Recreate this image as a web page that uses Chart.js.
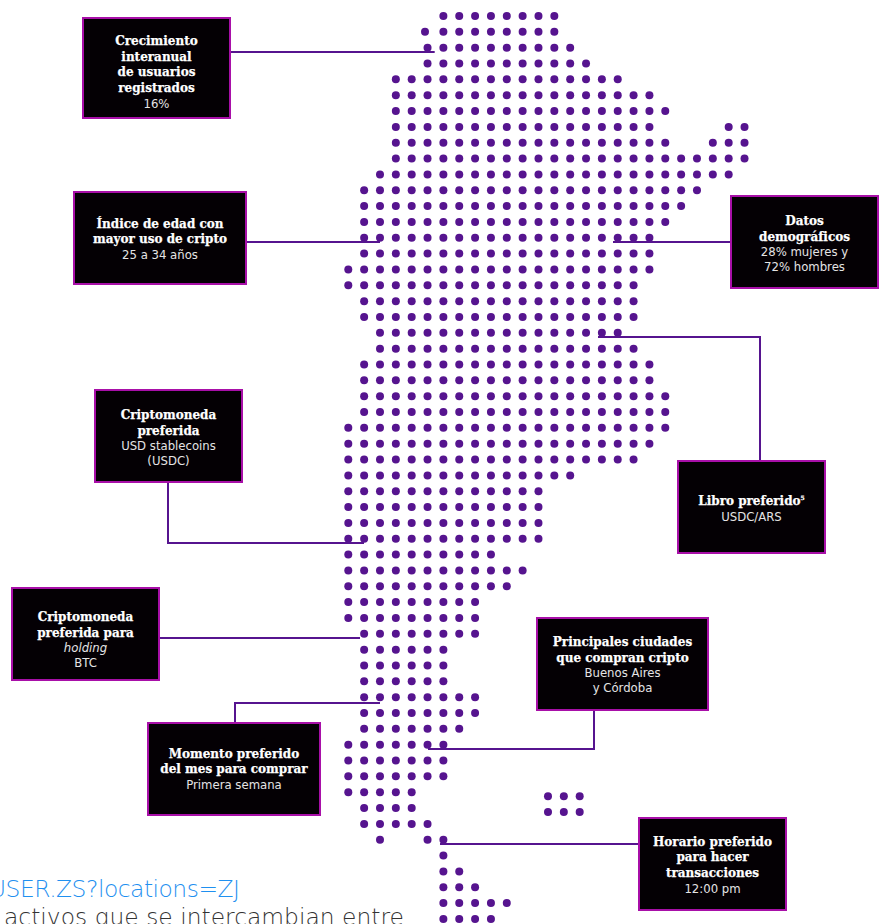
<!DOCTYPE html>
<html lang="es">
<head>
<meta charset="utf-8">
<title>Mapa de datos cripto</title>
<script src="https://cdn.jsdelivr.net/npm/chart.js@4/dist/chart.umd.min.js"></script>
<style>
    html, body { margin: 0; padding: 0; background: #fff; }
    #page { position: relative; width: 884px; height: 924px; overflow: hidden; }
    #dotMap { position: absolute; left: 0; top: 0; }
    .callout {
        position: absolute;
        box-sizing: border-box;
        display: flex;
        flex-direction: column;
        justify-content: center;
        background: #040004;
        border: 2px solid #a80fa8;
        color: #e4e4e4;
        text-align: center;
        font: 11.7px/14.5px "DejaVu Sans", sans-serif;
    }
    .callout b {
        display: block;
        color: #fff;
        font: bold 12px/15.7px "DejaVu Serif", serif;
        -webkit-text-stroke: 0.25px #fff;
    }
    .callout sup { font-size: 6px; line-height: 0; }
    .note { position: absolute; white-space: nowrap; font: 200 23.4px/28px "DejaVu Sans", sans-serif; }
</style>
</head>
<body>
<div id="page">
    <div class="note" style="left:-11px; top:875px; color:#1f90f0; letter-spacing:-0.5px;">USER.ZS?locations=ZJ</div>
    <div class="note" style="left:4px; top:903px; color:#333;">activos que se intercambian entre</div>
    <canvas id="dotMap" width="884" height="924"></canvas>
</div>
<script>
// mapa de puntos: cada fila es una fila de la grilla, # = punto
const northRows = [
    '......########',
    '......########',
    '.....##########',
    '.....###########',
    '...###############',
    '...#################',
    '...##################',
    '...#################....##',
    '...##################..###',
    '...#######################',
    '..#######################',
    '.######################',
    '.#####################',
    '.####################',
    '.###################',
    '.###################',
    '####################',
    '###################',
    '.##################',
    '.##################'
];
const centreRows = [
    '..################',
    '..#################',
    '.###################',
    '.###################',
    '.####################',
    '.####################',
    '#####################',
    '####################',
    '###################',
    '###############',
    '#############',
    '#############',
    '#############',
    '#############',
    '##########',
    '############',
    '###########',
    '#########',
    '#########',
    '.########'
];
const southRows = [
    '.######',
    '.######',
    '.######',
    '.########',
    '.########',
    '.#######',
    '#######',
    '#######',
    '#######',
    '#####',
    '.####',
    '.#####',
    '..#..##',
    '......#',
    '......##',
    '......###',
    '......#####',
    '......####'
];
// puntos sueltos, fuera de la grilla
const strayColumns = [4.84, 12.6, 13.6, 14.6, 12.6, 13.6, 14.6];
const strayRows = [1, 49.25, 49.25, 49.25, 50.25, 50.25, 50.25];

const calloutTitles = [
    ['Crecimiento', 'interanual', 'de usuarios', 'registrados'],
    ['Índice de edad con', 'mayor uso de cripto'],
    ['Datos', 'demográficos'],
    ['Criptomoneda', 'preferida'],
    ['Libro preferido<sup>5</sup>'],
    ['Criptomoneda', 'preferida para'],
    ['Principales ciudades', 'que compran cripto'],
    ['Momento preferido', 'del mes para comprar'],
    ['Horario preferido', 'para hacer', 'transacciones']
];
const calloutValues = [
    ['16%'],
    ['25 a 34 años'],
    ['28% mujeres y', '72% hombres'],
    ['USD stablecoins', '(USDC)'],
    ['USDC/ARS'],
    ['<i>holding</i>', 'BTC'],
    ['Buenos Aires', 'y Córdoba'],
    ['Primera semana'],
    ['12:00 pm']
];

// left, top, width, height y ajuste vertical del texto de cada recuadro
const calloutBoxes = [
    [82, 17, 149, 102, 4.5],
    [73, 191, 174, 94, 1.5],
    [730, 195, 149, 94, 2],
    [94, 389, 149, 94, 2],
    [677, 460, 149, 94, 2.5],
    [11, 587, 149, 94, 6],
    [536, 617, 173, 94, 1],
    [147, 722, 174, 94, 0.5],
    [638, 817, 149, 94, 1.5]
];
// conectores, en pixeles de la pagina
const connectorPaths = [
    [[231, 52], [434.7, 52]],
    [[247, 242], [380, 242]],
    [[730, 242], [613, 242]],
    [[760, 460], [760, 337], [598, 337]],
    [[168, 483], [168, 543], [364, 543]],
    [[160, 638], [360, 638]],
    [[235, 722], [235, 703], [380, 703]],
    [[594, 711], [594, 749], [428, 749]],
    [[638, 844], [440, 844]]
];

const DOT_COLOR = '#56148f';

const gridRows = [...northRows, ...centreRows, ...southRows];
const mapDots = [];
gridRows.forEach((row, rowIndex) => {
    [...row].forEach((cell, column) => {
        if (cell === '#') mapDots.push({ x: column, y: rowIndex });
    });
});
strayColumns.forEach((column, i) => mapDots.push({ x: column, y: strayRows[i] }));

const connectorDatasets = connectorPaths.map(path => ({
    type: 'scatter',
    data: path.map(([x, y]) => ({ x, y })),
    xAxisID: 'pageX',
    yAxisID: 'pageY',
    showLine: true,
    borderColor: DOT_COLOR,
    borderWidth: 2,
    borderJoinStyle: 'miter',
    pointRadius: 0,
    pointHoverRadius: 0
}));

new Chart(document.getElementById('dotMap'), {
    type: 'scatter',
    data: {
        datasets: [
            ...connectorDatasets,
            {
                data: mapDots,
                xAxisID: 'x',
                yAxisID: 'y',
                backgroundColor: DOT_COLOR,
                borderWidth: 0,
                pointRadius: 4,
                pointHoverRadius: 4
            }
        ]
    },
    options: {
        responsive: false,
        animation: false,
        layout: { padding: 0, autoPadding: false },
        plugins: { legend: { display: false }, tooltip: { enabled: false } },
        scales: {
            // columnas y filas de la grilla de puntos
            x: { type: 'linear', display: false, min: -21.975, max: 33.8 },
            y: { type: 'linear', display: false, reverse: true, min: -1.01, max: 57.32 },
            pageX: { type: 'linear', display: false, min: 0, max: 884 },
            pageY: { type: 'linear', display: false, reverse: true, min: 0, max: 924 }
        }
    }
});

const page = document.getElementById('page');
calloutBoxes.forEach(([left, top, width, height, textShift], i) => {
    const box = document.createElement('div');
    box.className = 'callout';
    box.style.cssText = `left:${left}px;top:${top}px;width:${width}px;height:${height}px;padding-top:${textShift * 2}px`;
    const titleHtml = calloutTitles[i].map(line => `<b>${line}</b>`).join('');
    const valueHtml = calloutValues[i].map(line => `<div>${line}</div>`).join('');
    box.innerHTML = titleHtml + valueHtml;
    page.appendChild(box);
});
</script>
</body>
</html>
